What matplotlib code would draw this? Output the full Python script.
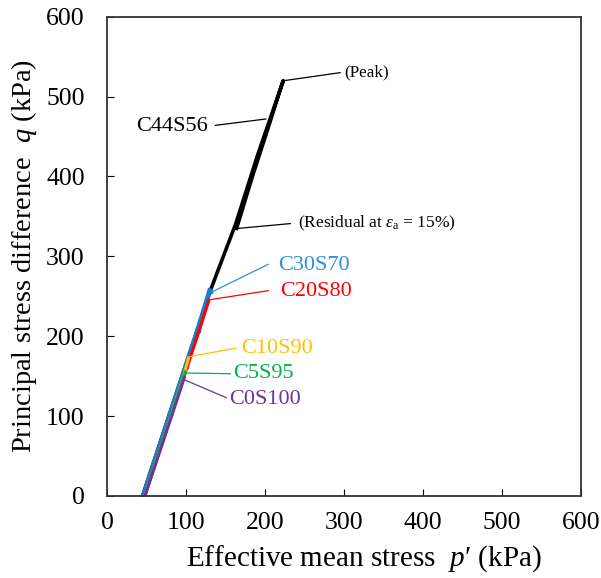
import matplotlib
matplotlib.use('Agg')
import matplotlib.pyplot as plt

plt.rcParams['font.family'] = ['Liberation Serif', 'DejaVu Serif']
plt.rcParams['mathtext.fontset'] = 'custom'
plt.rcParams['mathtext.rm'] = 'Liberation Serif'
plt.rcParams['mathtext.it'] = 'Liberation Serif:italic'

# effective stress paths, p' and q in kPa
p_c44 = [45, 70, 100, 130, 163, 191, 223, 220, 203, 184, 164]
q_c44 = [0, 75, 165, 255, 341, 428, 520, 511, 458, 400, 335]
p_c30 = [46, 60, 80, 100, 115, 130]
q_c30 = [0, 42, 103, 163, 208, 257]
p_c20 = [48, 61, 81, 101, 116, 129]
q_c20 = [0, 40, 100, 160, 205, 245]
p_c10 = [48, 61, 81, 96, 103]
q_c10 = [0, 40, 100, 147, 172]
p_c5 = [48, 61, 81, 99]
q_c5 = [0, 40, 100, 155]
p_c0 = [48, 61, 81, 98]
q_c0 = [0, 38, 97, 148]

ticks = [0, 100, 200, 300, 400, 500, 600]

col_c44 = 'black'
col_c30 = '#1f78cc'
col_c20 = '#ff0000'
col_c10 = '#ffc000'
col_c5 = '#00b050'
col_c0 = '#7030a0'

fig = plt.figure(figsize=(6.01, 5.78), dpi=100)
ax = fig.add_axes([0.178, 0.142, 0.789, 0.829])

ax.plot(p_c44, q_c44, color=col_c44, lw=2.6)
ax.plot(p_c30, q_c30, color=col_c30, lw=3.5, marker='s', ms=2.5)
ax.plot(p_c20, q_c20, color=col_c20, lw=2.2)
ax.plot(p_c10, q_c10, color=col_c10, lw=2.2)
ax.plot(p_c5, q_c5, color=col_c5, lw=2.2)
ax.plot(p_c0, q_c0, color=col_c0, lw=2.0)

# leader lines + labels
notes = [
    ('(Peak)', (224, 520), (295, 530), (300, 530), col_c44, 12.3),
    ('C44S56', (201, 472), (137, 464), (128, 463), col_c44, 16),
    ('(Residual at $\\varepsilon_{\\mathrm{a}}$ = 15%)', (166, 335), (232, 341), (242, 341), col_c44, 12.5),
    ('C30S70', (134, 256), (204, 290), (216, 289), '#2e8fdb', 16),
    ('C20S80', (132, 246), (204, 257), (219, 256), col_c20, 16),
    ('C10S90', (102.5, 174), (163, 185), (170, 185), col_c10, 16),
    ('C5S95', (99, 154), (156, 153), (159, 153), col_c5, 16),
    ('C0S100', (99, 145), (151, 123), (154, 121), col_c0, 16),
]
for txt, a, b, t, c, fs in notes:
    ax.plot([a[0], b[0]], [a[1], b[1]], color=c, lw=0.9)
    ha = 'right' if t[0] < b[0] else 'left'
    ax.text(t[0], t[1], txt, color=c, fontsize=fs, ha=ha, va='center')

ax.set_xlim(0, 600)
ax.set_ylim(0, 600)
ax.set_xticks(ticks)
ax.set_yticks(ticks)
ax.tick_params(direction='in', length=5, labelsize=18.5)
ax.tick_params(axis='x', pad=11.5)
ax.tick_params(axis='y', pad=16)
for s in ax.spines.values():
    s.set_linewidth(1.3)
    s.set_color('#333333')

ax.set_xlabel("Effective mean stress  $p$\u2032 (kPa)", fontsize=21)
ax.set_ylabel('Principal stress difference  $q$ (kPa)', fontsize=20.5)
ax.xaxis.set_label_coords(0.542, -0.099)
ax.yaxis.set_label_coords(-0.143, 0.5)

fig.savefig('out.png', dpi=100)
